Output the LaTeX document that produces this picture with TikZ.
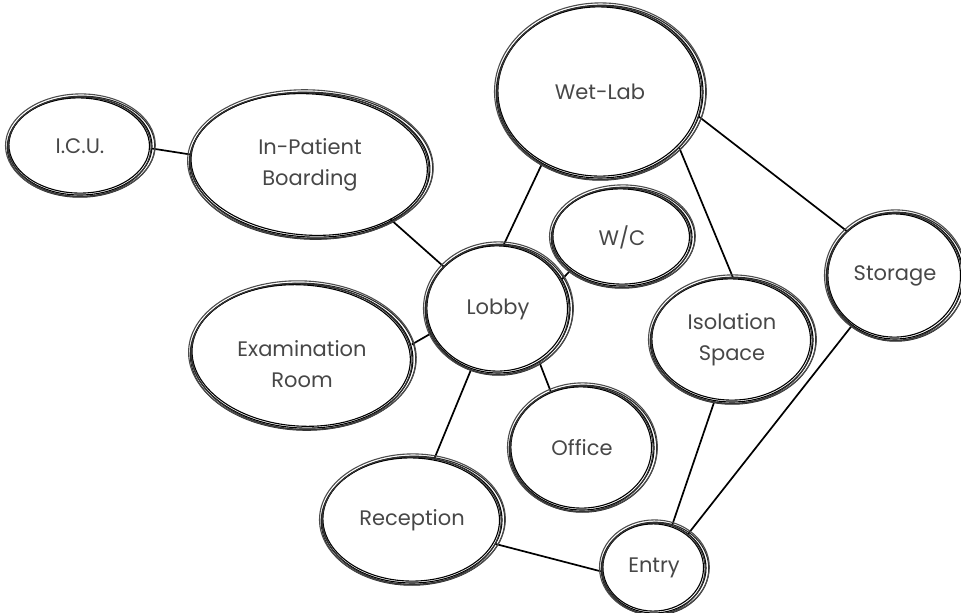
\documentclass[tikz,border=0pt]{standalone}
\usepackage{fontspec}
\setmainfont{Poppins}
\usetikzlibrary{shapes.geometric}
\tikzset{
  room/.style={ellipse, inner sep=0pt, font=\fontsize{21}{31}\selectfont, text=black!72, align=center},
  link/.style={line width=1.7pt, black},
  ringline/.style={line width=1.1pt},
}
\newcommand{\sketchring}[4]{%
  \foreach \dx/\dy/\drx/\dry/\da/\cc in {0/0/0/0/0/black, 1.0/0.7/1.8/1.5/1.0/black!85, -0.8/-0.5/-1.7/-1.4/-0.8/black, 0.4/-0.7/2.9/2.4/0.4/black!70, -0.3/0.5/-0.6/0.8/-0.4/black!80}{
    \pgfmathsetmacro\rxx{#2+\drx}%
    \pgfmathsetmacro\ryy{#3+\dry}%
    \pgfmathsetmacro\aa{#4+\da}%
    \draw[ringline, draw=\cc] ([shift={(\dx,\dy)}]#1.center) ellipse [x radius=\rxx pt, y radius=\ryy pt, rotate=\aa];
  }%
}
\begin{document}
\begin{tikzpicture}[x=1pt,y=-1pt]
\useasboundingbox (0,0) rectangle (961,613);
\node[room, minimum width=144pt, minimum height=98pt] (icu) at (80,146) {I.C.U.};
\node[room, minimum width=240pt, minimum height=145pt] (ipb) at (310,165) {In-Patient\\Boarding};
\node[room, minimum width=206pt, minimum height=172pt] (wet) at (600,92) {Wet-Lab};
\node[room, minimum width=140pt, minimum height=98pt] (wc) at (622,237) {W/C};
\node[room, minimum width=144pt, minimum height=128pt] (lobby) at (498,309) {Lobby};
\node[room, minimum width=136pt, minimum height=126pt] (storage) at (895,276) {Storage};
\node[room, minimum width=162pt, minimum height=124pt] (iso) at (732,340) {Isolation\\Space};
\node[room, minimum width=222pt, minimum height=145pt] (exam) at (302,356) {};
\node[room] (examtext) at (302,364) {Examination\\Room};
\node[room, minimum width=144pt, minimum height=124pt] (office) at (582,448) {Office};
\node[room, minimum width=180pt, minimum height=126pt] (recep) at (412,520) {Reception};
\node[room, minimum width=104pt, minimum height=90pt] (entry) at (654,568) {Entry};

\draw[link] (icu.-2) -- (ipb.175);
\draw[link] (ipb.-34) -- (lobby.142);
\draw[link] (wet.-129) -- (lobby.85);
\draw[link] (wet.-35) -- (iso.89);
\draw[link] (wet.-14) -- (storage.137);
\draw[link] (wc.-147) -- (lobby.25);
\draw[link] (exam.6) -- (lobby.-160);
\draw[link] (lobby.-52) -- (office.119);
\draw[link] (lobby.-114) -- (recep.70);
\draw[link] (iso.-106) -- (entry.67);
\draw[link] (storage.-131) -- (entry.45);
\draw[link] (recep.-16) -- (entry.-176);

\sketchring{icu}{72}{49}{0}
\sketchring{ipb}{120}{72}{-3}
\sketchring{wet}{103}{86}{0}
\sketchring{wc}{70}{49}{0}
\sketchring{lobby}{72}{64}{0}
\sketchring{storage}{68}{63}{0}
\sketchring{iso}{81}{62}{0}
\sketchring{exam}{111}{72}{-3}
\sketchring{office}{72}{62}{0}
\sketchring{recep}{90}{63}{0}
\sketchring{entry}{52}{45}{0}
\end{tikzpicture}
\end{document}
